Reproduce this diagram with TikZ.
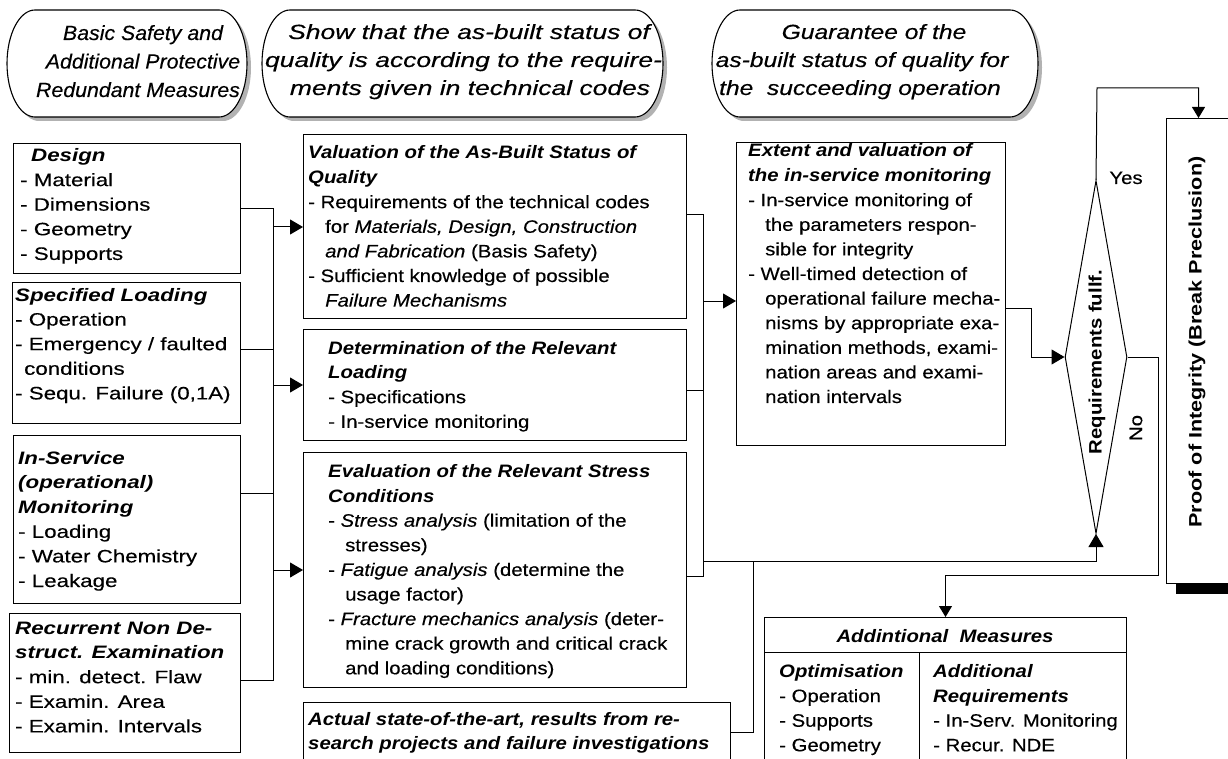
\documentclass[tikz,border=0pt]{standalone}
\usepackage{graphicx}
\usepackage{fontspec}
\setmainfont{Liberation Sans}
\newfontfamily\fM[FakeStretch=1.13,UprightFeatures={FakeBold=0.3},ItalicFeatures={FakeBold=0.3}]{Liberation Sans}
\newfontfamily\fL[FakeStretch=1.24,UprightFeatures={FakeBold=0.3},ItalicFeatures={FakeBold=0.3}]{Liberation Sans}
\newfontfamily\fE[ItalicFeatures={FakeBold=0.3}]{Liberation Sans}
\newfontfamily\fP[FakeStretch=1.2]{Liberation Sans}
\usetikzlibrary{arrows.meta,shapes.geometric,calc}
\newcommand\fsN{\fM\fontsize{18pt}{24.6pt}\selectfont}
\newcommand\fsL{\fL\fontsize{18pt}{24.6pt}\selectfont}
\newcommand\fsP{\fP\fontsize{18pt}{24.6pt}\selectfont}
\newcommand\fsE{\fE\fontsize{20.5pt}{28pt}\selectfont\itshape}
\newcommand\hd[1]{\textbf{\textit{#1}}}
\newcommand\inA{\hspace*{9pt}}
\newcommand\inB{\hspace*{17pt}}
\newcommand\tl[1]{\begin{tabular}[t]{@{}l@{}}#1\end{tabular}}
\newcommand\sx[2]{\scalebox{#1}[1]{#2}}
% stadium outline: #1 = left x, #2 = length of the straight top/bottom part
\newcommand\stadium[2]{%
\begin{scope}[shift={(#1,0)}]
\fill[shad, shift={(4,4)}] (28,10) -- ++(#2,0) arc[start angle=90, end angle=-90, x radius=28pt, y radius=53.5pt] -- ++(-#2,0) arc[start angle=270, end angle=90, x radius=28pt, y radius=53.5pt] -- cycle;
\path[stad] (28,10) -- ++(#2,0) arc[start angle=90, end angle=-90, x radius=28pt, y radius=53.5pt] -- ++(-#2,0) arc[start angle=270, end angle=90, x radius=28pt, y radius=53.5pt] -- cycle;
\end{scope}}
\begin{document}
\begin{tikzpicture}[x=1pt,y=-1pt,
  box/.style={draw, line width=1pt, fill=white, inner sep=0pt, anchor=north west},
  txt/.style={anchor=base west, inner sep=0pt, font=\fsN},
  ltxt/.style={anchor=base west, inner sep=0pt, font=\fsL},
  etxt/.style={anchor=base, inner sep=0pt, font=\fsE},
  ln/.style={line width=1pt},
  arr/.style={line width=1pt, -{Triangle[length=13pt,width=15pt]}},
  sarr/.style={line width=1pt, -{Triangle[length=11pt,width=13pt]}},
  shad/.style={fill=gray!60},
  stad/.style={draw, line width=1.1pt, fill=white}]
\useasboundingbox (0,0) rectangle (1228,759);
\clip (0,0) rectangle (1228,759);

% ---------- top stadium shapes ----------
\stadium{7}{184}
\stadium{262}{345}
\stadium{712}{270}

\node[etxt] (e1a) at (143,40) {\sx{1.04}{Basic Safety and}};
\node[etxt] (e1b) at (143,68.5) {\sx{1.04}{Additional Protective}};
\node[etxt] (e1c) at (138,97) {\sx{1.04}{Redundant Measures}};
\node[etxt] (e2a) at (469,39) {\sx{1.29}{Show that the as-built status of}};
\node[etxt] (e2b) at (463.5,67) {\sx{1.29}{quality is according to the require-}};
\node[etxt] (e2c) at (470,95) {\sx{1.29}{ments given in technical codes}};
\node[etxt] (e3a) at (874,39) {\sx{1.2}{Guarantee of the}};
\node[etxt] (e3b) at (862,67) {\sx{1.2}{as-built status of quality for}};
\node[etxt] (e3c) at (860,95) {\sx{1.2}{the\ \ succeeding operation}};

% ---------- left column ----------
\node[box, minimum width=227pt, minimum height=130pt] (design) at (13,143) {};
\node[box, minimum width=228pt, minimum height=141pt] (spec) at (12,282) {};
\node[box, minimum width=227pt, minimum height=168pt] (insvc) at (13,435) {};
\node[box, minimum width=231pt, minimum height=139pt] (recur) at (9,613) {};

\node[ltxt] (designT) at (20,161.5) {\tl{\hspace*{11pt}\hd{Design}\\- Material\\- Dimensions\\- Geometry\\- Supports}};
\node[ltxt] (specT) at (15,301) {\tl{\hd{Specified Loading}\\- Operation\\- Emergency / faulted\\\inA conditions\\- Sequ. Failure (0,1A)}};
\node[ltxt] (insvcT) at (18,464) {\tl{\hd{In-Service}\\\hd{(operational)}\\\hd{Monitoring}\\- Loading\\- Water Chemistry\\- Leakage}};
\node[ltxt] (recurT) at (15,634) {\tl{\hd{Recurrent Non De-}\\\hd{struct. Examination}\\- min. detect. Flaw\\- Examin. Area\\- Examin. Intervals}};

% ---------- middle column ----------
\node[box, minimum width=383pt, minimum height=184pt] (valu) at (303,134) {};
\node[box, minimum width=383pt, minimum height=111pt] (determ) at (303,329) {};
\node[box, minimum width=383pt, minimum height=235pt] (evalu) at (303,452) {};
\node[box, minimum width=427pt, minimum height=80pt] (actual) at (303,702) {};

\node[txt] (valuT) at (308,159) {\tl{\hd{Valuation of the As-Built Status of}\\\hd{Quality}\\- Requirements of the technical codes\\\inB for \textit{Materials, Design, Construction}\\\inB\textit{and Fabrication} (Basis Safety)\\- Sufficient knowledge of possible\\\inB\textit{Failure Mechanisms}}};
\node[txt] (determT) at (328,354) {\tl{\hd{Determination of the Relevant}\\\hd{Loading}\\- Specifications\\- In-service monitoring}};
\node[txt] (evaluT) at (328,477.5) {\tl{\hd{Evaluation of the Relevant Stress}\\\hd{Conditions}\\- \textit{Stress analysis} (limitation of the\\\inB stresses)\\- \textit{Fatigue analysis} (determine the\\\inB usage factor)\\- \textit{Fracture mechanics analysis} (deter-\\\inB mine crack growth and critical crack\\\inB and loading conditions)}};
\node[txt] (actualT) at (308,725) {\tl{\hd{Actual state-of-the-art, results from re-}\\\hd{search projects and failure investigations}}};

% ---------- right part ----------
\node[box, minimum width=269pt, minimum height=303pt] (extent) at (736,142) {};
\node[txt] (extentT) at (748,157) {\tl{\hd{Extent and valuation of}\\\hd{the in-service monitoring}\\- In-service monitoring of\\\inB the parameters respon-\\\inB sible for integrity\\- Well-timed detection of\\\inB operational failure mecha-\\\inB nisms by appropriate exa-\\\inB mination methods, exami-\\\inB nation areas and exami-\\\inB nation intervals}};

\node[diamond, draw, line width=1pt, fill=white, inner sep=0pt, minimum width=62pt, minimum height=353pt] (dia) at (1096,357) {};
\node[rotate=90, inner sep=0pt, font=\fsN\bfseries] (diaT) at (1097,362) {Requirements fullf.};

\fill[black] (1176,128) rectangle (1240,594);
\node[box, minimum width=64pt, minimum height=465pt] (proof) at (1166,118) {};
\node[rotate=90, inner sep=0pt, font=\fsP\bfseries] (proofT) at (1197,342) {Proof of Integrity (Break Preclusion)};

\node[box, minimum width=362pt, minimum height=35pt] (addm) at (764,617) {};
\node[box, minimum width=155pt, minimum height=130pt] (optc) at (764,652) {};
\node[box, minimum width=207pt, minimum height=130pt] (reqc) at (919,652) {};
\node[anchor=base, inner sep=0pt, font=\fsN] (addmT) at (945,642.5) {\hd{Addintional\ \ Measures}};
\node[txt] (optT) at (779,677.5) {\tl{\hd{Optimisation}\\- Operation\\- Supports\\- Geometry}};
\node[txt] (reqT) at (933,677.5) {\tl{\hd{Additional}\\\hd{Requirements}\\- In-Serv. Monitoring\\- Recur. NDE}};

\node[anchor=base, inner sep=0pt, font=\fsN] (yes) at (1126,184) {Yes};
\node[rotate=90, inner sep=0pt, font=\fsN] (no) at (1136,428) {No};

% ---------- connectors ----------
\coordinate (sT) at (273,209);
\coordinate (s2) at (273,349);
\coordinate (s3) at (273,493);
\coordinate (sB) at (273,680);
\draw[ln] (design.east |- sT) -- (sT) -- (sB) -- (recur.east |- sB);
\draw[ln] (spec.east |- s2) -- (s2);
\draw[ln] (insvc.east |- s3) -- (s3);
\coordinate (a1) at (273,227);
\coordinate (a2) at (273,385);
\coordinate (a3) at (273,570);
\draw[arr] (a1) -- (valu.west |- a1);
\draw[arr] (a2) -- (determ.west |- a2);
\draw[arr] (a3) -- (evalu.west |- a3);

\coordinate (mT) at (703,215);
\coordinate (m2) at (703,390);
\coordinate (mB) at (703,576);
\coordinate (mA) at (703,301);
\coordinate (mC) at (703,561);
\draw[ln] (valu.east |- mT) -- (mT) -- (mB) -- (evalu.east |- mB);
\draw[ln] (determ.east |- m2) -- (m2);
\draw[arr] (mA) -- (extent.west |- mA);
\coordinate (b1) at (753,561);
\coordinate (b2) at (753,732);
\draw[ln] (actual.east |- b2) -- (b2) -- (b1);
\draw[arr] (mC) -- (dia.south |- mC) -- (dia.south);

\coordinate (x1) at (1031,308);
\draw[arr] (extent.east |- x1) -- (x1) |- (dia.west);

\coordinate (y1) at (1097,88);
\draw[sarr] (dia.north) -- (y1) -| (proof.north);

\coordinate (n1) at (1158,575);
\draw[sarr] (dia.east) -| (n1) -| (addm.north);
\end{tikzpicture}
\end{document}
